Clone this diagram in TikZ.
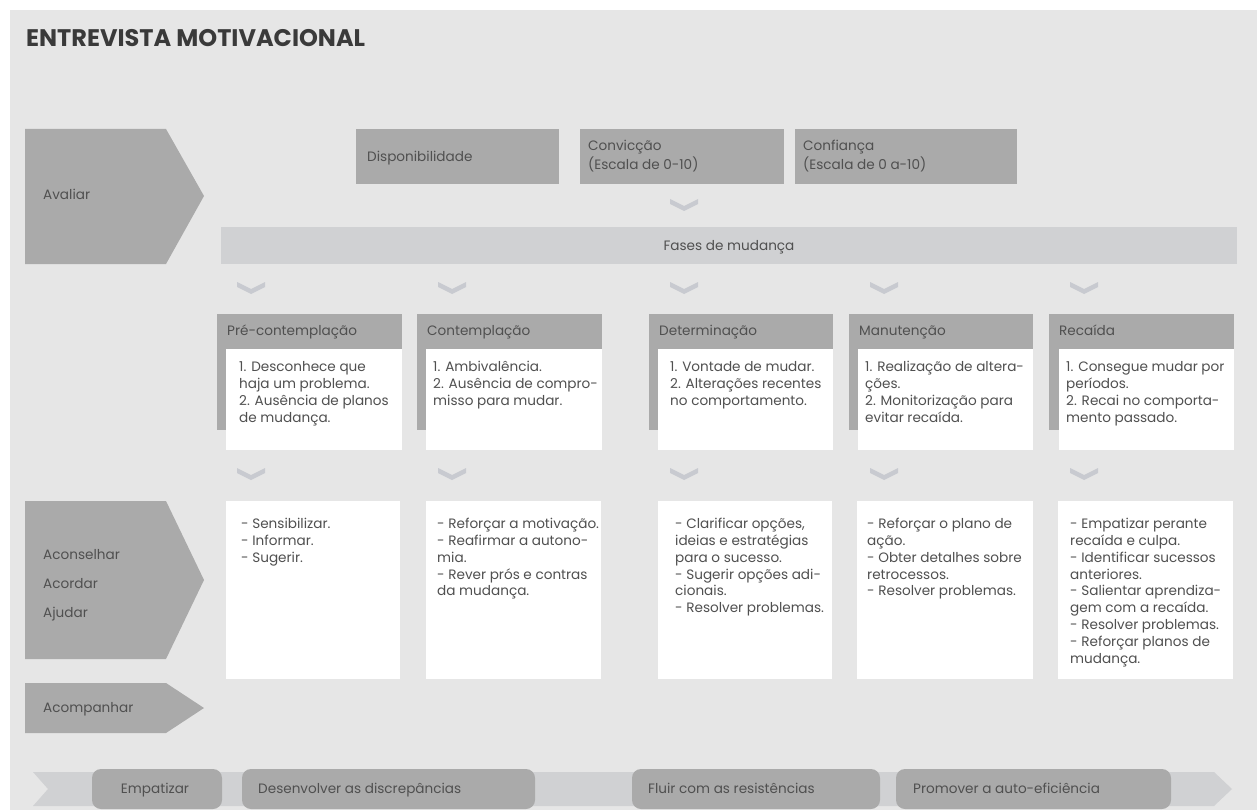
\documentclass[tikz,border=0pt]{standalone}
\usepackage{fontspec}
\setmainfont{Poppins}
\definecolor{bgcol}{HTML}{E6E6E6}
\definecolor{boxgray}{HTML}{AAAAAA}
\definecolor{bandcol}{HTML}{D0D1D3}
\definecolor{chevcol}{HTML}{C8CAD0}
\definecolor{txtcol}{HTML}{505050}
\definecolor{titlecol}{HTML}{3A3A3A}
\newcommand\bodyfont{\fontsize{13.6}{16.8}\selectfont}
\tikzset{
  panel/.style={fill=boxgray},
  band/.style={fill=bandcol},
  card/.style={fill=white},
  pill/.style={fill=boxgray, rounded corners=9pt},
  lbl/.style={inner sep=0pt, anchor=base west, text=txtcol, font=\bodyfont},
  para/.style={inner sep=0pt, anchor=north west, align=left, text=txtcol, font=\bodyfont},
  chevron/.pic={\fill[chevcol] (-14,-6) -- (0,1) -- (14,-6) -- (14,-1) -- (0,6) -- (-14,-1) -- cycle;},
}
\begin{document}
\begin{tikzpicture}[x=1pt,y=-1pt]
\useasboundingbox (0,0) rectangle (1257,810);
\fill[white] (0,0) rectangle (1257,810);
\fill[bgcol] (10,10) rectangle (1257,810);

% title
\node[inner sep=0pt, anchor=base west, text=titlecol,
  font=\fontsize{24}{28}\selectfont\bfseries] (title) at (26,47) {ENTREVISTA MOTIVACIONAL};

% left-hand stage arrows
\fill[panel] (25,129) -- (166,129) -- (204,196) -- (166,264) -- (25,264) -- cycle;
\node[lbl] (avaliar) at (43,199.5) {Avaliar};
\fill[panel] (25,501) -- (166,501) -- (204,580) -- (166,659) -- (25,659) -- cycle;
\node[lbl] (aconselhar) at (43,559) {Aconselhar};
\node[lbl] (acordar) at (43,588) {Acordar};
\node[lbl] (ajudar) at (43,617) {Ajudar};
\fill[panel] (25,683) -- (166,683) -- (204,708) -- (166,733) -- (25,733) -- cycle;
\node[lbl] (acompanhar) at (43,712) {Acompanhar};

% assessment boxes
\fill[panel] (356,129) rectangle (559,184);
\node[lbl] (disp) at (367,161.5) {Disponibilidade};
\fill[panel] (580,129) rectangle (784,184);
\node[lbl] (conv) at (588,151) {Convicção};
\node[lbl] (convesc) at (588,170) {(Escala de 0-10)};
\fill[panel] (795,129) rectangle (1017,184);
\node[lbl] (conf) at (803,151) {Confiança};
\node[lbl] (confesc) at (803,170) {(Escala de 0 a-10)};

\pic at (684,205) {chevron};

% stages of change band
\fill[band] (221,227) rectangle (1237,264);
\node[inner sep=0pt, anchor=base, text=txtcol, font=\bodyfont]
  (fases) at (729,251) {Fases de mudança};

\foreach \cx in {251,452,684,884,1084} {
  \pic at (\cx,288) {chevron};
  \pic at (\cx,474) {chevron};
}

% stage cards: grey header with white card on top
\fill[panel] (217,314) rectangle (402,430);
\fill[card] (226,349) rectangle (402,450);
\node[lbl] (h1) at (227,335) {Pré-contemplação};
\node[para] (t1) at (239,359.7) {\strut 1. Desconhece que\\haja um problema.\\2. Ausência de planos\\de mudança.};

\fill[panel] (417,314) rectangle (602,430);
\fill[card] (426,349) rectangle (602,450);
\node[lbl] (h2) at (427,335) {Contemplação};
\node[para] (t2) at (433,359.7) {\strut 1. Ambivalência.\\2. Ausência de compro-\\misso para mudar.};

\fill[panel] (649,314) rectangle (833,430);
\fill[card] (658,349) rectangle (833,450);
\node[lbl] (h3) at (659,335) {Determinação};
\node[para] (t3) at (670,359.7) {\strut 1. Vontade de mudar.\\2. Alterações recentes\\no comportamento.};

\fill[panel] (849,314) rectangle (1033,430);
\fill[card] (858,349) rectangle (1033,450);
\node[lbl] (h4) at (859,335) {Manutenção};
\node[para] (t4) at (865,359.7) {\strut 1. Realização de altera-\\ções.\\2. Monitorização para\\evitar recaída.};

\fill[panel] (1049,314) rectangle (1234,430);
\fill[card] (1059,349) rectangle (1234,450);
\node[lbl] (h5) at (1059,335) {Recaída};
\node[para] (t5) at (1066,359.7) {\strut 1. Consegue mudar por\\períodos.\\2. Recai no comporta-\\mento passado.};

% intervention cards
\fill[card] (226,501) rectangle (400,679);
\node[para] (a1) at (241,516.7) {\strut - Sensibilizar.\\- Informar.\\- Sugerir.};
\fill[card] (426,501) rectangle (601,679);
\node[para] (a2) at (437,516.7) {\strut - Reforçar a motivação.\\- Reafirmar a autono-\\mia.\\- Rever prós e contras\\da mudança.};
\fill[card] (658,501) rectangle (832,679);
\node[para] (a3) at (675,516.7) {\strut - Clarificar opções,\\ideias e estratégias\\para o sucesso.\\- Sugerir opções adi-\\cionais.\\- Resolver problemas.};
\fill[card] (857,501) rectangle (1033,679);
\node[para] (a4) at (867,516.7) {\strut - Reforçar o plano de\\ação.\\- Obter detalhes sobre\\retrocessos.\\- Resolver problemas.};
\fill[card] (1058,501) rectangle (1233,679);
\node[para] (a5) at (1070,516.7) {\strut - Empatizar perante\\recaída e culpa.\\- Identificar sucessos\\anteriores.\\- Salientar aprendiza-\\gem com a recaída.\\- Resolver problemas.\\- Reforçar planos de\\mudança.};

% bottom principles band
\fill[band] (33,772) -- (1214,772) -- (1232,789) -- (1214,806) -- (33,806) -- (48,789) -- cycle;
\fill[pill] (92,769) rectangle (222,809);
\node[inner sep=0pt, anchor=base, text=txtcol, font=\bodyfont]
  (p1) at (155,793) {Empatizar};
\fill[pill] (242,769) rectangle (535,809);
\node[lbl] (p2) at (258,793) {Desenvolver as discrepâncias};
\fill[pill] (632,769) rectangle (880,809);
\node[lbl] (p3) at (648,793) {Fluir com as resistências};
\fill[pill] (896,769) rectangle (1171,809);
\node[lbl] (p4) at (913,793) {Promover a auto-eficiência};
\end{tikzpicture}
\end{document}
